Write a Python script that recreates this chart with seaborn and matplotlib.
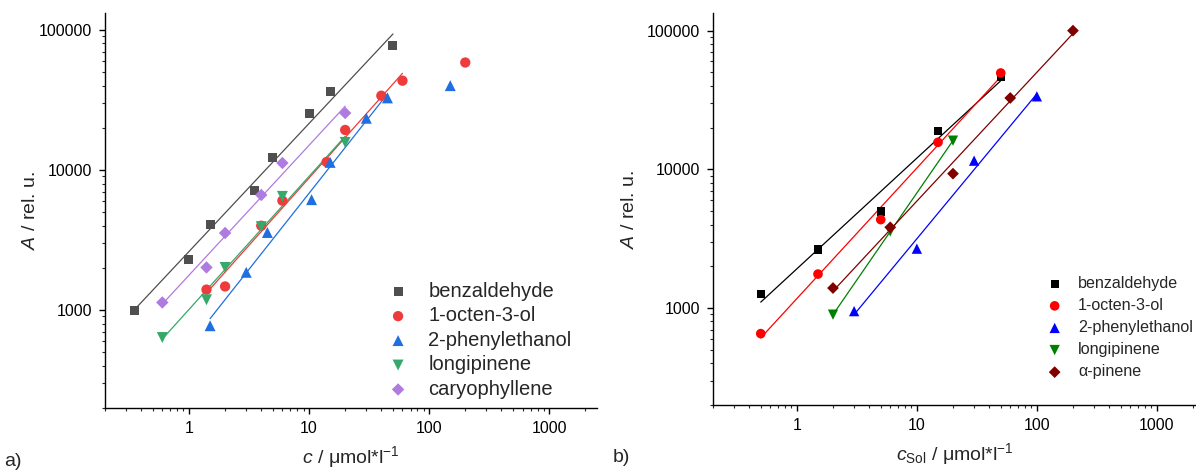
import numpy as np
import pandas as pd
import matplotlib
matplotlib.use("Agg")
import matplotlib.pyplot as plt
import matplotlib.ticker as mticker
import seaborn as sns

# ---------------- data: panel a ----------------
a_names = ["benzaldehyde", "1-octen-3-ol", "2-phenylethanol", "longipinene", "caryophyllene"]
a_benz_x = [0.35, 1.0, 1.5, 3.5, 5.0, 10, 15, 50]
a_benz_y = [1000, 2310, 4090, 7150, 12200, 25100, 36400, 77200]
a_oct_x = [1.4, 2.0, 4.0, 6.0, 14, 20, 40, 60]
a_oct_y = [1400, 1475, 4000, 6040, 11400, 19300, 33900, 43400]
a_oct_out_x = [200]
a_oct_out_y = [58500]
a_phe_x = [1.5, 3.0, 4.5, 10.5, 15, 30, 45]
a_phe_y = [773, 1860, 3580, 6140, 11330, 23400, 32700]
a_phe_out_x = [150]
a_phe_out_y = [40000]
a_lon_x = [0.6, 1.4, 2.0, 4.0, 6.0, 20]
a_lon_y = [637, 1185, 2015, 3940, 6480, 15740]
a_car_x = [0.6, 1.4, 2.0, 4.0, 6.0, 20]
a_car_y = [1133, 2015, 3550, 6630, 11220, 25500]

# ---------------- data: panel b ----------------
b_names = ["benzaldehyde", "1-octen-3-ol", "2-phenylethanol", "longipinene", "α-pinene"]
b_benz_x = [0.5, 1.5, 5, 15, 50]
b_benz_y = [1262, 2636, 4980, 19000, 46600]
b_oct_x = [0.5, 1.5, 5, 15, 50]
b_oct_y = [654, 1758, 4340, 15660, 49500]
b_phe_x = [3, 10, 30, 100]
b_phe_y = [950, 2680, 11550, 33600]
b_lon_x = [2, 6, 20]
b_lon_y = [896, 3570, 16100]
b_api_x = [2, 6, 20, 60, 200]
b_api_y = [1394, 3820, 9310, 32700, 100000]

# ---------------- style ----------------
sns.set_theme(style="ticks")
plt.rcParams["font.family"] = ["Liberation Sans", "DejaVu Sans"]
plt.rcParams["mathtext.fontset"] = "custom"
plt.rcParams["mathtext.rm"] = "Liberation Sans"
plt.rcParams["mathtext.it"] = "Liberation Sans:italic"
plt.rcParams["axes.linewidth"] = 1.0

a_colors = ["#4f4f4f", "#ee3b3b", "#1f6fe0", "#35a86a", "#b07be0"]
b_colors = ["#000000", "#ff0000", "#0000ff", "#008000", "#800000"]
markers = ["s", "o", "^", "v", "D"]
a_sizes = [42, 55, 62, 62, 40]
b_sizes = [36, 48, 55, 55, 36]

W, H = 1196, 470
fig = plt.figure(figsize=(W / 100, H / 100), dpi=100)
axA = fig.add_axes([105 / W, (H - 408) / H, 492 / W, 395 / H])
axB = fig.add_axes([713 / W, (H - 405) / H, 483 / W, 392 / H])


def fit_line(ax, xs, ys, color):
    lx, ly = np.log10(xs), np.log10(ys)
    m, b = np.polyfit(lx, ly, 1)
    xf = np.array([min(xs), max(xs)])
    yf = 10 ** (b + m * np.log10(xf))
    sns.lineplot(x=xf, y=yf, ax=ax, color=color, lw=0.9, legend=False, sort=True)


def scatter(ax, xs, ys, color, marker, s, label):
    sns.scatterplot(x=xs, y=ys, ax=ax, color=color, marker=marker, s=s,
                    edgecolor="none", linewidth=0, label=label, zorder=3)


# panel a
a_series = [(a_benz_x, a_benz_y), (a_oct_x, a_oct_y), (a_phe_x, a_phe_y),
            (a_lon_x, a_lon_y), (a_car_x, a_car_y)]
for (xs, ys), c in zip(a_series, a_colors):
    fit_line(axA, xs, ys, c)
for i, ((xs, ys), c) in enumerate(zip(a_series, a_colors)):
    scatter(axA, xs, ys, c, markers[i], a_sizes[i], a_names[i])
scatter(axA, a_oct_out_x, a_oct_out_y, a_colors[1], "o", a_sizes[1], "_nolegend_")
scatter(axA, a_phe_out_x, a_phe_out_y, a_colors[2], "^", a_sizes[2], "_nolegend_")

# panel b
b_series = [(b_benz_x, b_benz_y), (b_oct_x, b_oct_y), (b_phe_x, b_phe_y),
            (b_lon_x, b_lon_y), (b_api_x, b_api_y)]
for (xs, ys), c in zip(b_series, b_colors):
    fit_line(axB, xs, ys, c)
for i, ((xs, ys), c) in enumerate(zip(b_series, b_colors)):
    scatter(axB, xs, ys, c, markers[i], b_sizes[i], b_names[i])

for ax, xlim, ylim in [(axA, (0.2, 2500), (200, 132000)), (axB, (0.2, 2120), (200, 134000))]:
    ax.set_xscale("log")
    ax.set_yscale("log")
    ax.set_xlim(*xlim)
    ax.set_ylim(*ylim)
    ax.xaxis.set_major_locator(mticker.FixedLocator([1, 10, 100, 1000]))
    ax.yaxis.set_major_locator(mticker.FixedLocator([1000, 10000, 100000]))
    fmt = mticker.FuncFormatter(lambda v, p: f"{v:.0f}")
    ax.xaxis.set_major_formatter(fmt)
    ax.yaxis.set_major_formatter(fmt)
    ax.xaxis.set_minor_locator(mticker.LogLocator(base=10, subs=np.arange(2, 10), numticks=20))
    ax.yaxis.set_minor_locator(mticker.LogLocator(base=10, subs=np.arange(2, 10), numticks=20))
    ax.xaxis.set_minor_formatter(mticker.NullFormatter())
    ax.yaxis.set_minor_formatter(mticker.NullFormatter())
    ax.tick_params(which="major", direction="out", length=4.5, width=1.0,
                   labelsize=11.4, pad=5, colors="#000000")
    ax.tick_params(which="minor", direction="out", length=2.5, width=0.8)
    for s in ["top", "right"]:
        ax.spines[s].set_visible(False)
    for s in ["left", "bottom"]:
        ax.spines[s].set_color("#000000")

axA.set_ylabel("$A$ / rel. u.", fontsize=14, labelpad=0)
axB.set_ylabel("$A$ / rel. u.", fontsize=14, labelpad=6)
axA.set_xlabel(r"$c$ / μmol*l$^{-1}$", fontsize=14, labelpad=6)
axB.set_xlabel(r"$c_{\mathrm{Sol}}$ / μmol*l$^{-1}$", fontsize=14, labelpad=6)

# legends
hA, lA = axA.get_legend_handles_labels()
axA.legend(hA, lA, loc="upper left", bbox_to_anchor=(386 / W, 1 - 282 / H),
           bbox_transform=fig.transFigure, frameon=False, fontsize=14.5,
           borderpad=0, borderaxespad=0, handlelength=1.2, handletextpad=0.9,
           labelspacing=0.27, markerscale=1.0)
hB, lB = axB.get_legend_handles_labels()
axB.legend(hB, lB, loc="upper left", bbox_to_anchor=(1045 / W, 1 - 276 / H),
           bbox_transform=fig.transFigure, frameon=False, fontsize=11.6,
           borderpad=0, borderaxespad=0, handlelength=1.2, handletextpad=0.85,
           labelspacing=0.44, markerscale=1.0)

fig.text(4 / W, 1 - 461 / H, "a)", fontsize=14, va="center", ha="left")
fig.text(613 / W, 1 - 458 / H, "b)", fontsize=14, va="center", ha="left")

fig.savefig("out.png", dpi=100)
